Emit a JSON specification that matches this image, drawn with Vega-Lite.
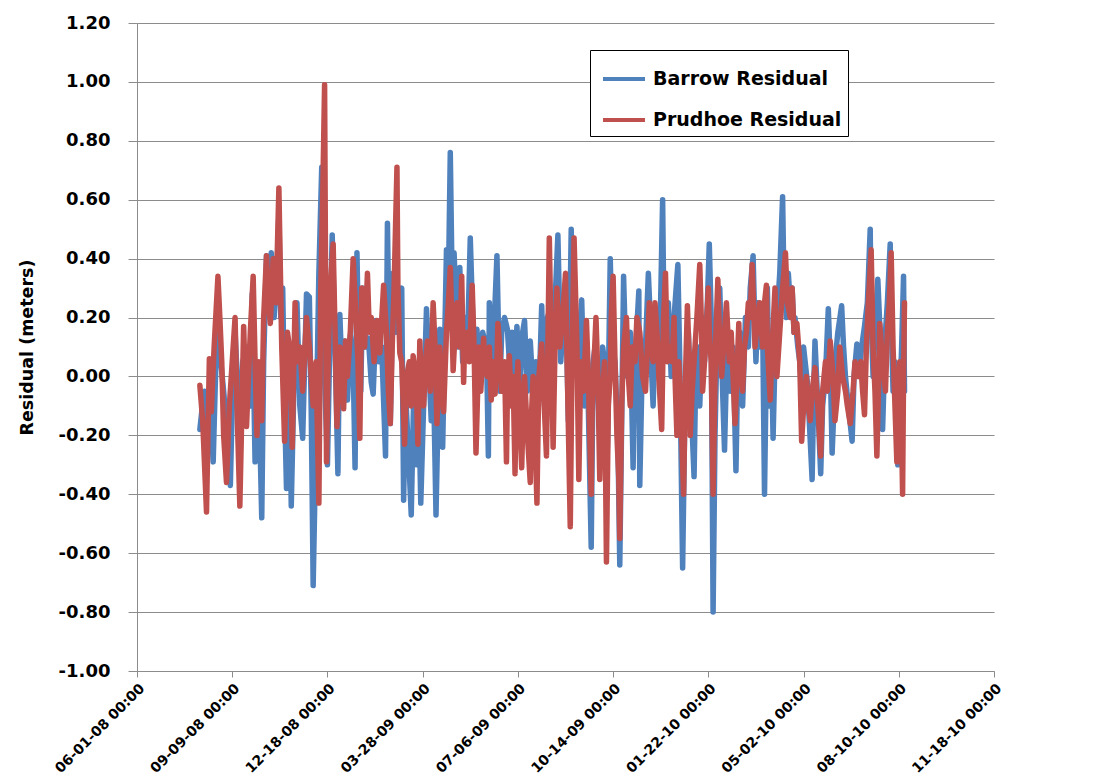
{
  "$schema": "https://vega.github.io/schema/vega-lite/v6.json",
  "autosize": "none",
  "width": 857,
  "height": 648,
  "padding": {"left": 137, "top": 23, "right": 113, "bottom": 105},
  "background": "white",
  "config": {
    "view": {"stroke": null},
    "font": "DejaVu Sans",
    "axis": {"labelFont": "DejaVu Sans", "labelFontWeight": "bold", "labelColor": "#000000", "titleFont": "DejaVu Sans", "titleFontWeight": "bold", "titleColor": "#000000", "domainColor": "#8c8c8c", "tickColor": "#8c8c8c", "gridColor": "#8c8c8c", "domainWidth": 1, "tickWidth": 1, "gridWidth": 1},
    "legend": {"labelFont": "DejaVu Sans"}
  },
  "data": {"values": [
    {"d":"2008-08-06","s":"B","v":-0.18},{"d":"2008-08-08","s":"B","v":-0.12},{"d":"2008-08-11","s":"B","v":-0.05},{"d":"2008-08-15","s":"B","v":-0.20},{"d":"2008-08-17","s":"B","v":-0.10},{"d":"2008-08-20","s":"B","v":-0.29},{"d":"2008-08-22","s":"B","v":-0.05},{"d":"2008-08-25","s":"B","v":0.28},{"d":"2008-08-28","s":"B","v":0.05},{"d":"2008-08-31","s":"B","v":-0.05},
    {"d":"2008-09-04","s":"B","v":-0.20},{"d":"2008-09-07","s":"B","v":-0.37},{"d":"2008-09-09","s":"B","v":-0.10},{"d":"2008-09-12","s":"B","v":0.15},{"d":"2008-09-15","s":"B","v":-0.05},{"d":"2008-09-17","s":"B","v":-0.30},{"d":"2008-09-20","s":"B","v":0.05},{"d":"2008-09-25","s":"B","v":0.10},{"d":"2008-09-28","s":"B","v":-0.10},{"d":"2008-09-30","s":"B","v":0.28},
    {"d":"2008-10-03","s":"B","v":-0.29},{"d":"2008-10-06","s":"B","v":0.00},{"d":"2008-10-08","s":"B","v":-0.20},{"d":"2008-10-10","s":"B","v":-0.48},{"d":"2008-10-12","s":"B","v":0.05},{"d":"2008-10-15","s":"B","v":0.41},{"d":"2008-10-18","s":"B","v":0.25},{"d":"2008-10-20","s":"B","v":0.42},{"d":"2008-10-23","s":"B","v":0.20},{"d":"2008-10-26","s":"B","v":0.35},{"d":"2008-10-28","s":"B","v":0.55},{"d":"2008-10-30","s":"B","v":0.20},
    {"d":"2008-11-01","s":"B","v":0.30},{"d":"2008-11-03","s":"B","v":-0.10},{"d":"2008-11-05","s":"B","v":-0.38},{"d":"2008-11-08","s":"B","v":0.05},{"d":"2008-11-10","s":"B","v":-0.44},{"d":"2008-11-13","s":"B","v":0.00},{"d":"2008-11-16","s":"B","v":0.25},{"d":"2008-11-19","s":"B","v":-0.10},{"d":"2008-11-22","s":"B","v":-0.21},{"d":"2008-11-26","s":"B","v":0.28},{"d":"2008-11-29","s":"B","v":0.27},
    {"d":"2008-12-01","s":"B","v":-0.12},{"d":"2008-12-03","s":"B","v":-0.71},{"d":"2008-12-06","s":"B","v":-0.20},{"d":"2008-12-09","s":"B","v":0.35},{"d":"2008-12-12","s":"B","v":0.71},{"d":"2008-12-14","s":"B","v":0.10},{"d":"2008-12-18","s":"B","v":-0.30},{"d":"2008-12-21","s":"B","v":0.20},{"d":"2008-12-23","s":"B","v":0.48},{"d":"2008-12-26","s":"B","v":0.10},{"d":"2008-12-29","s":"B","v":-0.33},{"d":"2008-12-31","s":"B","v":0.21},
    {"d":"2009-01-03","s":"B","v":-0.05},{"d":"2009-01-05","s":"B","v":0.12},{"d":"2009-01-08","s":"B","v":-0.08},{"d":"2009-01-11","s":"B","v":0.14},{"d":"2009-01-14","s":"B","v":0.05},{"d":"2009-01-16","s":"B","v":-0.31},{"d":"2009-01-18","s":"B","v":0.42},{"d":"2009-01-20","s":"B","v":0.05},{"d":"2009-01-22","s":"B","v":-0.05},{"d":"2009-01-24","s":"B","v":0.30},{"d":"2009-01-27","s":"B","v":0.10},{"d":"2009-01-30","s":"B","v":0.13},
    {"d":"2009-02-02","s":"B","v":-0.02},{"d":"2009-02-04","s":"B","v":-0.06},{"d":"2009-02-07","s":"B","v":0.19},{"d":"2009-02-10","s":"B","v":0.05},{"d":"2009-02-13","s":"B","v":0.10},{"d":"2009-02-17","s":"B","v":-0.27},{"d":"2009-02-19","s":"B","v":0.52},{"d":"2009-02-22","s":"B","v":-0.16},{"d":"2009-02-25","s":"B","v":0.35},{"d":"2009-02-28","s":"B","v":0.15},
    {"d":"2009-03-03","s":"B","v":0.25},{"d":"2009-03-06","s":"B","v":0.30},{"d":"2009-03-08","s":"B","v":-0.42},{"d":"2009-03-10","s":"B","v":-0.05},{"d":"2009-03-13","s":"B","v":-0.25},{"d":"2009-03-16","s":"B","v":-0.47},{"d":"2009-03-19","s":"B","v":0.00},{"d":"2009-03-22","s":"B","v":-0.30},{"d":"2009-03-24","s":"B","v":-0.10},{"d":"2009-03-26","s":"B","v":-0.43},{"d":"2009-03-29","s":"B","v":-0.10},
    {"d":"2009-04-01","s":"B","v":0.23},{"d":"2009-04-04","s":"B","v":0.00},{"d":"2009-04-06","s":"B","v":-0.15},{"d":"2009-04-08","s":"B","v":0.05},{"d":"2009-04-11","s":"B","v":-0.47},{"d":"2009-04-15","s":"B","v":0.16},{"d":"2009-04-18","s":"B","v":-0.24},{"d":"2009-04-20","s":"B","v":0.10},{"d":"2009-04-22","s":"B","v":0.43},{"d":"2009-04-24","s":"B","v":0.30},{"d":"2009-04-26","s":"B","v":0.76},{"d":"2009-04-28","s":"B","v":0.30},{"d":"2009-04-30","s":"B","v":0.42},
    {"d":"2009-05-02","s":"B","v":0.25},{"d":"2009-05-04","s":"B","v":0.10},{"d":"2009-05-06","s":"B","v":0.37},{"d":"2009-05-09","s":"B","v":0.05},{"d":"2009-05-12","s":"B","v":0.20},{"d":"2009-05-14","s":"B","v":0.10},{"d":"2009-05-17","s":"B","v":0.47},{"d":"2009-05-21","s":"B","v":0.05},{"d":"2009-05-24","s":"B","v":0.16},{"d":"2009-05-26","s":"B","v":-0.05},{"d":"2009-05-28","s":"B","v":0.05},{"d":"2009-05-30","s":"B","v":0.15},
    {"d":"2009-06-03","s":"B","v":0.10},{"d":"2009-06-05","s":"B","v":-0.27},{"d":"2009-06-06","s":"B","v":0.25},{"d":"2009-06-08","s":"B","v":0.10},{"d":"2009-06-10","s":"B","v":0.05},{"d":"2009-06-12","s":"B","v":0.25},{"d":"2009-06-14","s":"B","v":0.41},{"d":"2009-06-16","s":"B","v":0.10},{"d":"2009-06-17","s":"B","v":-0.05},{"d":"2009-06-19","s":"B","v":0.15},{"d":"2009-06-22","s":"B","v":0.20},{"d":"2009-06-25","s":"B","v":0.16},{"d":"2009-06-28","s":"B","v":0.00},{"d":"2009-06-30","s":"B","v":0.15},
    {"d":"2009-07-02","s":"B","v":-0.02},{"d":"2009-07-05","s":"B","v":0.17},{"d":"2009-07-08","s":"B","v":-0.05},{"d":"2009-07-11","s":"B","v":0.15},{"d":"2009-07-13","s":"B","v":0.19},{"d":"2009-07-16","s":"B","v":-0.05},{"d":"2009-07-19","s":"B","v":0.12},{"d":"2009-07-22","s":"B","v":-0.05},{"d":"2009-07-25","s":"B","v":0.05},{"d":"2009-07-28","s":"B","v":-0.08},{"d":"2009-07-31","s":"B","v":0.24},
    {"d":"2009-08-03","s":"B","v":-0.10},{"d":"2009-08-06","s":"B","v":0.20},{"d":"2009-08-09","s":"B","v":0.23},{"d":"2009-08-11","s":"B","v":0.05},{"d":"2009-08-14","s":"B","v":0.25},{"d":"2009-08-17","s":"B","v":0.48},{"d":"2009-08-20","s":"B","v":0.05},{"d":"2009-08-22","s":"B","v":0.15},{"d":"2009-08-25","s":"B","v":0.30},{"d":"2009-08-28","s":"B","v":-0.15},{"d":"2009-08-31","s":"B","v":0.50},
    {"d":"2009-09-02","s":"B","v":0.20},{"d":"2009-09-04","s":"B","v":0.15},{"d":"2009-09-07","s":"B","v":0.05},{"d":"2009-09-11","s":"B","v":0.26},{"d":"2009-09-14","s":"B","v":-0.10},{"d":"2009-09-17","s":"B","v":0.05},{"d":"2009-09-21","s":"B","v":-0.58},{"d":"2009-09-23","s":"B","v":0.05},{"d":"2009-09-25","s":"B","v":0.10},{"d":"2009-09-28","s":"B","v":-0.05},{"d":"2009-09-30","s":"B","v":-0.20},
    {"d":"2009-10-03","s":"B","v":0.10},{"d":"2009-10-05","s":"B","v":0.05},{"d":"2009-10-08","s":"B","v":-0.24},{"d":"2009-10-11","s":"B","v":0.40},{"d":"2009-10-13","s":"B","v":0.10},{"d":"2009-10-16","s":"B","v":0.05},{"d":"2009-10-19","s":"B","v":-0.20},{"d":"2009-10-21","s":"B","v":-0.64},{"d":"2009-10-25","s":"B","v":0.34},{"d":"2009-10-27","s":"B","v":0.10},{"d":"2009-10-29","s":"B","v":0.00},
    {"d":"2009-11-01","s":"B","v":0.15},{"d":"2009-11-04","s":"B","v":-0.31},{"d":"2009-11-06","s":"B","v":0.05},{"d":"2009-11-10","s":"B","v":0.29},{"d":"2009-11-11","s":"B","v":-0.37},{"d":"2009-11-13","s":"B","v":-0.05},{"d":"2009-11-17","s":"B","v":0.10},{"d":"2009-11-20","s":"B","v":0.35},{"d":"2009-11-22","s":"B","v":0.20},{"d":"2009-11-23","s":"B","v":0.05},{"d":"2009-11-25","s":"B","v":-0.10},{"d":"2009-11-28","s":"B","v":0.20},{"d":"2009-11-30","s":"B","v":0.00},
    {"d":"2009-12-02","s":"B","v":0.10},{"d":"2009-12-05","s":"B","v":0.60},{"d":"2009-12-06","s":"B","v":0.30},{"d":"2009-12-08","s":"B","v":0.10},{"d":"2009-12-11","s":"B","v":0.25},{"d":"2009-12-14","s":"B","v":0.00},{"d":"2009-12-17","s":"B","v":0.20},{"d":"2009-12-21","s":"B","v":0.38},{"d":"2009-12-23","s":"B","v":0.05},{"d":"2009-12-26","s":"B","v":-0.65},{"d":"2009-12-28","s":"B","v":-0.20},{"d":"2009-12-30","s":"B","v":0.00},
    {"d":"2010-01-01","s":"B","v":0.15},{"d":"2010-01-04","s":"B","v":-0.10},{"d":"2010-01-07","s":"B","v":-0.34},{"d":"2010-01-09","s":"B","v":0.05},{"d":"2010-01-11","s":"B","v":0.10},{"d":"2010-01-13","s":"B","v":-0.10},{"d":"2010-01-16","s":"B","v":0.20},{"d":"2010-01-18","s":"B","v":0.05},{"d":"2010-01-21","s":"B","v":0.25},{"d":"2010-01-23","s":"B","v":0.45},{"d":"2010-01-25","s":"B","v":0.20},{"d":"2010-01-27","s":"B","v":-0.80},{"d":"2010-01-29","s":"B","v":-0.20},{"d":"2010-01-31","s":"B","v":0.10},
    {"d":"2010-02-03","s":"B","v":0.30},{"d":"2010-02-06","s":"B","v":-0.05},{"d":"2010-02-08","s":"B","v":-0.25},{"d":"2010-02-11","s":"B","v":0.15},{"d":"2010-02-14","s":"B","v":-0.05},{"d":"2010-02-17","s":"B","v":0.10},{"d":"2010-02-20","s":"B","v":-0.32},{"d":"2010-02-22","s":"B","v":0.05},{"d":"2010-02-24","s":"B","v":0.15},{"d":"2010-02-27","s":"B","v":-0.10},
    {"d":"2010-03-02","s":"B","v":0.20},{"d":"2010-03-05","s":"B","v":0.10},{"d":"2010-03-07","s":"B","v":0.30},{"d":"2010-03-10","s":"B","v":0.41},{"d":"2010-03-12","s":"B","v":0.15},{"d":"2010-03-13","s":"B","v":0.05},{"d":"2010-03-15","s":"B","v":0.25},{"d":"2010-03-17","s":"B","v":0.10},{"d":"2010-03-20","s":"B","v":0.20},{"d":"2010-03-22","s":"B","v":-0.40},{"d":"2010-03-25","s":"B","v":0.30},{"d":"2010-03-27","s":"B","v":-0.10},{"d":"2010-03-29","s":"B","v":0.15},{"d":"2010-03-31","s":"B","v":-0.21},
    {"d":"2010-04-03","s":"B","v":0.20},{"d":"2010-04-05","s":"B","v":0.25},{"d":"2010-04-07","s":"B","v":0.35},{"d":"2010-04-10","s":"B","v":0.61},{"d":"2010-04-11","s":"B","v":0.40},{"d":"2010-04-14","s":"B","v":0.20},{"d":"2010-04-16","s":"B","v":0.35},{"d":"2010-04-18","s":"B","v":0.25},{"d":"2010-04-20","s":"B","v":0.30},{"d":"2010-04-22","s":"B","v":0.15},{"d":"2010-04-23","s":"B","v":0.20},{"d":"2010-04-26","s":"B","v":0.10},{"d":"2010-04-28","s":"B","v":0.05},{"d":"2010-04-30","s":"B","v":-0.05},
    {"d":"2010-05-02","s":"B","v":0.10},{"d":"2010-05-06","s":"B","v":-0.02},{"d":"2010-05-08","s":"B","v":-0.15},{"d":"2010-05-11","s":"B","v":-0.35},{"d":"2010-05-13","s":"B","v":0.00},{"d":"2010-05-14","s":"B","v":0.12},{"d":"2010-05-17","s":"B","v":-0.10},{"d":"2010-05-20","s":"B","v":-0.33},{"d":"2010-05-22","s":"B","v":-0.10},{"d":"2010-05-25","s":"B","v":0.00},{"d":"2010-05-28","s":"B","v":0.23},{"d":"2010-05-30","s":"B","v":0.05},
    {"d":"2010-06-01","s":"B","v":-0.26},{"d":"2010-06-03","s":"B","v":-0.10},{"d":"2010-06-04","s":"B","v":0.05},{"d":"2010-06-07","s":"B","v":0.15},{"d":"2010-06-11","s":"B","v":0.24},{"d":"2010-06-13","s":"B","v":0.10},{"d":"2010-06-15","s":"B","v":0.00},{"d":"2010-06-18","s":"B","v":-0.10},{"d":"2010-06-22","s":"B","v":-0.22},{"d":"2010-06-24","s":"B","v":0.00},{"d":"2010-06-27","s":"B","v":0.11},{"d":"2010-06-29","s":"B","v":0.00},
    {"d":"2010-07-02","s":"B","v":0.10},{"d":"2010-07-05","s":"B","v":0.17},{"d":"2010-07-08","s":"B","v":0.25},{"d":"2010-07-11","s":"B","v":0.50},{"d":"2010-07-12","s":"B","v":0.20},{"d":"2010-07-14","s":"B","v":0.00},{"d":"2010-07-16","s":"B","v":0.15},{"d":"2010-07-19","s":"B","v":0.33},{"d":"2010-07-22","s":"B","v":0.10},{"d":"2010-07-24","s":"B","v":-0.18},{"d":"2010-07-27","s":"B","v":0.15},{"d":"2010-07-29","s":"B","v":0.25},
    {"d":"2010-08-01","s":"B","v":0.45},{"d":"2010-08-02","s":"B","v":0.20},{"d":"2010-08-04","s":"B","v":-0.05},{"d":"2010-08-06","s":"B","v":0.05},{"d":"2010-08-09","s":"B","v":-0.30},{"d":"2010-08-11","s":"B","v":-0.10},{"d":"2010-08-13","s":"B","v":0.10},{"d":"2010-08-15","s":"B","v":0.34},{"d":"2010-08-16","s":"B","v":-0.05},

    {"d":"2008-08-06","s":"P","v":-0.03},{"d":"2008-08-09","s":"P","v":-0.15},{"d":"2008-08-13","s":"P","v":-0.46},{"d":"2008-08-16","s":"P","v":0.06},{"d":"2008-08-18","s":"P","v":-0.12},{"d":"2008-08-21","s":"P","v":0.10},{"d":"2008-08-25","s":"P","v":0.34},{"d":"2008-08-27","s":"P","v":0.20},{"d":"2008-08-29","s":"P","v":0.05},{"d":"2008-08-31","s":"P","v":-0.20},
    {"d":"2008-09-03","s":"P","v":-0.36},{"d":"2008-09-06","s":"P","v":-0.10},{"d":"2008-09-09","s":"P","v":0.05},{"d":"2008-09-12","s":"P","v":0.20},{"d":"2008-09-14","s":"P","v":-0.10},{"d":"2008-09-17","s":"P","v":-0.44},{"d":"2008-09-21","s":"P","v":0.17},{"d":"2008-09-24","s":"P","v":-0.17},{"d":"2008-09-28","s":"P","v":0.15},
    {"d":"2008-10-01","s":"P","v":0.34},{"d":"2008-10-03","s":"P","v":0.05},{"d":"2008-10-05","s":"P","v":-0.20},{"d":"2008-10-07","s":"P","v":0.05},{"d":"2008-10-10","s":"P","v":-0.15},{"d":"2008-10-12","s":"P","v":0.20},{"d":"2008-10-15","s":"P","v":0.41},{"d":"2008-10-17","s":"P","v":0.25},{"d":"2008-10-19","s":"P","v":0.18},{"d":"2008-10-22","s":"P","v":0.40},{"d":"2008-10-25","s":"P","v":0.25},{"d":"2008-10-28","s":"P","v":0.64},{"d":"2008-10-31","s":"P","v":0.10},
    {"d":"2008-11-03","s":"P","v":-0.22},{"d":"2008-11-06","s":"P","v":0.15},{"d":"2008-11-09","s":"P","v":0.08},{"d":"2008-11-11","s":"P","v":-0.24},{"d":"2008-11-14","s":"P","v":0.25},{"d":"2008-11-16","s":"P","v":0.05},{"d":"2008-11-19","s":"P","v":0.10},{"d":"2008-11-22","s":"P","v":-0.05},{"d":"2008-11-26","s":"P","v":0.20},{"d":"2008-11-29","s":"P","v":0.10},
    {"d":"2008-12-01","s":"P","v":0.00},{"d":"2008-12-03","s":"P","v":-0.10},{"d":"2008-12-06","s":"P","v":0.05},{"d":"2008-12-09","s":"P","v":-0.43},{"d":"2008-12-11","s":"P","v":0.30},{"d":"2008-12-13","s":"P","v":0.60},{"d":"2008-12-15","s":"P","v":0.99},{"d":"2008-12-17","s":"P","v":-0.29},{"d":"2008-12-19","s":"P","v":0.10},{"d":"2008-12-21","s":"P","v":0.30},{"d":"2008-12-24","s":"P","v":0.45},{"d":"2008-12-26","s":"P","v":0.15},{"d":"2008-12-28","s":"P","v":-0.17},{"d":"2008-12-31","s":"P","v":0.10},
    {"d":"2009-01-04","s":"P","v":-0.11},{"d":"2009-01-06","s":"P","v":0.12},{"d":"2009-01-08","s":"P","v":0.00},{"d":"2009-01-11","s":"P","v":0.15},{"d":"2009-01-14","s":"P","v":0.40},{"d":"2009-01-17","s":"P","v":0.20},{"d":"2009-01-19","s":"P","v":0.05},{"d":"2009-01-21","s":"P","v":-0.21},{"d":"2009-01-23","s":"P","v":0.30},{"d":"2009-01-25","s":"P","v":0.15},{"d":"2009-01-26","s":"P","v":0.10},{"d":"2009-01-29","s":"P","v":0.35},{"d":"2009-01-31","s":"P","v":0.15},
    {"d":"2009-02-02","s":"P","v":0.20},{"d":"2009-02-05","s":"P","v":0.05},{"d":"2009-02-08","s":"P","v":0.19},{"d":"2009-02-11","s":"P","v":0.08},{"d":"2009-02-15","s":"P","v":0.31},{"d":"2009-02-18","s":"P","v":0.15},{"d":"2009-02-20","s":"P","v":-0.05},{"d":"2009-02-22","s":"P","v":-0.16},{"d":"2009-02-24","s":"P","v":0.10},{"d":"2009-02-26","s":"P","v":0.30},
    {"d":"2009-03-01","s":"P","v":0.71},{"d":"2009-03-02","s":"P","v":0.30},{"d":"2009-03-04","s":"P","v":0.08},{"d":"2009-03-06","s":"P","v":0.05},{"d":"2009-03-09","s":"P","v":-0.23},{"d":"2009-03-11","s":"P","v":0.00},{"d":"2009-03-14","s":"P","v":0.05},{"d":"2009-03-16","s":"P","v":-0.10},{"d":"2009-03-18","s":"P","v":0.07},{"d":"2009-03-21","s":"P","v":0.00},{"d":"2009-03-23","s":"P","v":-0.23},{"d":"2009-03-25","s":"P","v":0.12},{"d":"2009-03-27","s":"P","v":-0.05},{"d":"2009-03-29","s":"P","v":-0.10},{"d":"2009-03-31","s":"P","v":0.05},
    {"d":"2009-04-02","s":"P","v":0.12},{"d":"2009-04-05","s":"P","v":-0.05},{"d":"2009-04-08","s":"P","v":0.25},{"d":"2009-04-10","s":"P","v":0.10},{"d":"2009-04-12","s":"P","v":-0.16},{"d":"2009-04-15","s":"P","v":0.10},{"d":"2009-04-17","s":"P","v":-0.05},{"d":"2009-04-19","s":"P","v":-0.12},{"d":"2009-04-22","s":"P","v":0.15},{"d":"2009-04-24","s":"P","v":0.25},{"d":"2009-04-26","s":"P","v":0.37},{"d":"2009-04-28","s":"P","v":0.15},{"d":"2009-04-29","s":"P","v":0.02},
    {"d":"2009-05-01","s":"P","v":0.15},{"d":"2009-05-03","s":"P","v":0.25},{"d":"2009-05-06","s":"P","v":0.10},{"d":"2009-05-08","s":"P","v":0.34},{"d":"2009-05-10","s":"P","v":-0.02},{"d":"2009-05-11","s":"P","v":0.10},{"d":"2009-05-14","s":"P","v":0.15},{"d":"2009-05-16","s":"P","v":0.05},{"d":"2009-05-19","s":"P","v":0.31},{"d":"2009-05-21","s":"P","v":0.10},{"d":"2009-05-23","s":"P","v":-0.26},{"d":"2009-05-26","s":"P","v":0.10},{"d":"2009-05-28","s":"P","v":-0.05},{"d":"2009-05-31","s":"P","v":0.13},
    {"d":"2009-06-01","s":"P","v":0.05},{"d":"2009-06-04","s":"P","v":0.00},{"d":"2009-06-06","s":"P","v":0.10},{"d":"2009-06-08","s":"P","v":-0.08},{"d":"2009-06-10","s":"P","v":0.05},{"d":"2009-06-12","s":"P","v":-0.06},{"d":"2009-06-14","s":"P","v":0.05},{"d":"2009-06-15","s":"P","v":0.18},{"d":"2009-06-17","s":"P","v":0.10},{"d":"2009-06-19","s":"P","v":-0.05},{"d":"2009-06-22","s":"P","v":0.05},{"d":"2009-06-24","s":"P","v":-0.29},{"d":"2009-06-25","s":"P","v":-0.05},{"d":"2009-06-27","s":"P","v":0.07},{"d":"2009-06-29","s":"P","v":-0.10},
    {"d":"2009-07-01","s":"P","v":0.00},{"d":"2009-07-03","s":"P","v":-0.33},{"d":"2009-07-04","s":"P","v":-0.10},{"d":"2009-07-06","s":"P","v":0.05},{"d":"2009-07-08","s":"P","v":-0.15},{"d":"2009-07-10","s":"P","v":-0.31},{"d":"2009-07-12","s":"P","v":-0.05},{"d":"2009-07-13","s":"P","v":0.00},{"d":"2009-07-16","s":"P","v":-0.20},{"d":"2009-07-19","s":"P","v":-0.36},{"d":"2009-07-20","s":"P","v":-0.15},{"d":"2009-07-22","s":"P","v":0.00},{"d":"2009-07-24","s":"P","v":-0.20},{"d":"2009-07-26","s":"P","v":-0.43},{"d":"2009-07-28","s":"P","v":0.00},{"d":"2009-07-31","s":"P","v":0.11},
    {"d":"2009-08-02","s":"P","v":-0.05},{"d":"2009-08-05","s":"P","v":-0.27},{"d":"2009-08-08","s":"P","v":0.47},{"d":"2009-08-10","s":"P","v":0.10},{"d":"2009-08-12","s":"P","v":-0.24},{"d":"2009-08-14","s":"P","v":0.10},{"d":"2009-08-16","s":"P","v":0.30},{"d":"2009-08-18","s":"P","v":0.15},{"d":"2009-08-19","s":"P","v":0.10},{"d":"2009-08-22","s":"P","v":0.20},{"d":"2009-08-25","s":"P","v":0.35},{"d":"2009-08-27","s":"P","v":0.00},{"d":"2009-08-30","s":"P","v":-0.51},
    {"d":"2009-09-01","s":"P","v":0.10},{"d":"2009-09-03","s":"P","v":0.47},{"d":"2009-09-06","s":"P","v":0.10},{"d":"2009-09-08","s":"P","v":-0.35},{"d":"2009-09-10","s":"P","v":0.05},{"d":"2009-09-13","s":"P","v":-0.05},{"d":"2009-09-16","s":"P","v":0.19},{"d":"2009-09-18","s":"P","v":0.00},{"d":"2009-09-21","s":"P","v":-0.40},{"d":"2009-09-22","s":"P","v":-0.10},{"d":"2009-09-26","s":"P","v":0.20},{"d":"2009-09-28","s":"P","v":0.00},{"d":"2009-09-30","s":"P","v":-0.35},
    {"d":"2009-10-02","s":"P","v":-0.10},{"d":"2009-10-05","s":"P","v":0.05},{"d":"2009-10-07","s":"P","v":-0.63},{"d":"2009-10-09","s":"P","v":-0.10},{"d":"2009-10-11","s":"P","v":0.00},{"d":"2009-10-12","s":"P","v":0.20},{"d":"2009-10-14","s":"P","v":0.34},{"d":"2009-10-16","s":"P","v":0.05},{"d":"2009-10-18","s":"P","v":-0.20},{"d":"2009-10-20","s":"P","v":-0.35},{"d":"2009-10-21","s":"P","v":-0.55},{"d":"2009-10-23","s":"P","v":-0.10},{"d":"2009-10-25","s":"P","v":0.10},{"d":"2009-10-28","s":"P","v":0.20},{"d":"2009-10-30","s":"P","v":0.00},
    {"d":"2009-11-01","s":"P","v":-0.10},{"d":"2009-11-03","s":"P","v":0.10},{"d":"2009-11-06","s":"P","v":0.05},{"d":"2009-11-08","s":"P","v":0.20},{"d":"2009-11-11","s":"P","v":0.15},{"d":"2009-11-14","s":"P","v":0.00},{"d":"2009-11-17","s":"P","v":-0.05},{"d":"2009-11-19","s":"P","v":0.10},{"d":"2009-11-21","s":"P","v":0.25},{"d":"2009-11-23","s":"P","v":0.10},{"d":"2009-11-25","s":"P","v":0.05},{"d":"2009-11-27","s":"P","v":0.25},{"d":"2009-11-30","s":"P","v":0.10},
    {"d":"2009-12-01","s":"P","v":0.00},{"d":"2009-12-04","s":"P","v":-0.18},{"d":"2009-12-06","s":"P","v":0.20},{"d":"2009-12-08","s":"P","v":0.35},{"d":"2009-12-10","s":"P","v":0.05},{"d":"2009-12-13","s":"P","v":0.10},{"d":"2009-12-15","s":"P","v":0.05},{"d":"2009-12-17","s":"P","v":0.20},{"d":"2009-12-18","s":"P","v":0.00},{"d":"2009-12-20","s":"P","v":-0.20},{"d":"2009-12-22","s":"P","v":0.05},{"d":"2009-12-24","s":"P","v":-0.10},{"d":"2009-12-27","s":"P","v":-0.40},{"d":"2009-12-29","s":"P","v":0.00},{"d":"2009-12-31","s":"P","v":0.24},
    {"d":"2010-01-02","s":"P","v":0.05},{"d":"2010-01-03","s":"P","v":-0.20},{"d":"2010-01-05","s":"P","v":-0.05},{"d":"2010-01-08","s":"P","v":0.10},{"d":"2010-01-10","s":"P","v":0.20},{"d":"2010-01-13","s":"P","v":0.38},{"d":"2010-01-15","s":"P","v":0.15},{"d":"2010-01-16","s":"P","v":-0.05},{"d":"2010-01-19","s":"P","v":0.10},{"d":"2010-01-22","s":"P","v":0.30},{"d":"2010-01-23","s":"P","v":0.15},{"d":"2010-01-25","s":"P","v":0.05},{"d":"2010-01-27","s":"P","v":-0.40},{"d":"2010-01-29","s":"P","v":0.00},{"d":"2010-01-30","s":"P","v":0.15},
    {"d":"2010-02-01","s":"P","v":0.33},{"d":"2010-02-03","s":"P","v":0.10},{"d":"2010-02-05","s":"P","v":0.00},{"d":"2010-02-08","s":"P","v":0.15},{"d":"2010-02-10","s":"P","v":0.25},{"d":"2010-02-13","s":"P","v":0.05},{"d":"2010-02-15","s":"P","v":0.15},{"d":"2010-02-17","s":"P","v":0.00},{"d":"2010-02-19","s":"P","v":-0.16},{"d":"2010-02-21","s":"P","v":0.00},{"d":"2010-02-23","s":"P","v":0.18},{"d":"2010-02-24","s":"P","v":0.05},{"d":"2010-02-27","s":"P","v":-0.05},
    {"d":"2010-03-01","s":"P","v":0.10},{"d":"2010-03-03","s":"P","v":0.15},{"d":"2010-03-05","s":"P","v":0.25},{"d":"2010-03-07","s":"P","v":0.20},{"d":"2010-03-09","s":"P","v":0.38},{"d":"2010-03-11","s":"P","v":0.20},{"d":"2010-03-12","s":"P","v":0.10},{"d":"2010-03-15","s":"P","v":0.20},{"d":"2010-03-17","s":"P","v":0.25},{"d":"2010-03-20","s":"P","v":0.10},{"d":"2010-03-22","s":"P","v":0.25},{"d":"2010-03-24","s":"P","v":0.31},{"d":"2010-03-25","s":"P","v":0.10},{"d":"2010-03-28","s":"P","v":-0.08},{"d":"2010-03-30","s":"P","v":0.10},
    {"d":"2010-04-02","s":"P","v":0.30},{"d":"2010-04-04","s":"P","v":0.00},{"d":"2010-04-07","s":"P","v":0.15},{"d":"2010-04-10","s":"P","v":0.30},{"d":"2010-04-13","s":"P","v":0.42},{"d":"2010-04-15","s":"P","v":0.25},{"d":"2010-04-18","s":"P","v":0.20},{"d":"2010-04-20","s":"P","v":0.30},{"d":"2010-04-22","s":"P","v":0.15},{"d":"2010-04-25","s":"P","v":0.18},{"d":"2010-04-28","s":"P","v":0.05},{"d":"2010-04-30","s":"P","v":-0.22},
    {"d":"2010-05-03","s":"P","v":-0.05},{"d":"2010-05-05","s":"P","v":0.00},{"d":"2010-05-07","s":"P","v":-0.10},{"d":"2010-05-09","s":"P","v":-0.15},{"d":"2010-05-11","s":"P","v":-0.05},{"d":"2010-05-14","s":"P","v":0.03},{"d":"2010-05-17","s":"P","v":-0.10},{"d":"2010-05-20","s":"P","v":-0.27},{"d":"2010-05-22","s":"P","v":-0.05},{"d":"2010-05-25","s":"P","v":0.05},{"d":"2010-05-27","s":"P","v":-0.05},{"d":"2010-05-30","s":"P","v":0.12},
    {"d":"2010-06-02","s":"P","v":0.00},{"d":"2010-06-04","s":"P","v":-0.15},{"d":"2010-06-07","s":"P","v":-0.05},{"d":"2010-06-09","s":"P","v":0.10},{"d":"2010-06-12","s":"P","v":0.00},{"d":"2010-06-15","s":"P","v":-0.05},{"d":"2010-06-17","s":"P","v":-0.10},{"d":"2010-06-20","s":"P","v":-0.16},{"d":"2010-06-23","s":"P","v":-0.05},{"d":"2010-06-25","s":"P","v":0.05},{"d":"2010-06-28","s":"P","v":0.00},
    {"d":"2010-07-01","s":"P","v":0.05},{"d":"2010-07-03","s":"P","v":-0.05},{"d":"2010-07-05","s":"P","v":-0.13},{"d":"2010-07-07","s":"P","v":0.10},{"d":"2010-07-09","s":"P","v":0.25},{"d":"2010-07-12","s":"P","v":0.43},{"d":"2010-07-14","s":"P","v":0.10},{"d":"2010-07-16","s":"P","v":-0.05},{"d":"2010-07-18","s":"P","v":-0.27},{"d":"2010-07-20","s":"P","v":0.00},{"d":"2010-07-21","s":"P","v":0.18},{"d":"2010-07-24","s":"P","v":0.05},{"d":"2010-07-27","s":"P","v":-0.05},{"d":"2010-07-29","s":"P","v":0.15},{"d":"2010-07-31","s":"P","v":0.25},
    {"d":"2010-08-02","s":"P","v":0.42},{"d":"2010-08-04","s":"P","v":0.10},{"d":"2010-08-06","s":"P","v":-0.10},{"d":"2010-08-08","s":"P","v":-0.29},{"d":"2010-08-10","s":"P","v":0.00},{"d":"2010-08-11","s":"P","v":0.05},{"d":"2010-08-13","s":"P","v":-0.20},{"d":"2010-08-14","s":"P","v":-0.40},{"d":"2010-08-15","s":"P","v":0.00},{"d":"2010-08-16","s":"P","v":0.25}
  ]},
  "mark": {"type": "line", "strokeWidth": 5.5, "strokeJoin": "round", "strokeCap": "round"},
  "encoding": {
    "x": {
      "field": "d", "type": "temporal", "title": null,
      "scale": {"type": "utc", "nice": false, "domain": [{"year": 2008, "month": 6, "date": 1, "utc": true}, {"year": 2010, "month": 11, "date": 18, "utc": true}]},
      "axis": {
        "values": [
          {"year": 2008, "month": 6, "date": 1, "utc": true},
          {"year": 2008, "month": 9, "date": 9, "utc": true},
          {"year": 2008, "month": 12, "date": 18, "utc": true},
          {"year": 2009, "month": 3, "date": 28, "utc": true},
          {"year": 2009, "month": 7, "date": 6, "utc": true},
          {"year": 2009, "month": 10, "date": 14, "utc": true},
          {"year": 2010, "month": 1, "date": 22, "utc": true},
          {"year": 2010, "month": 5, "date": 2, "utc": true},
          {"year": 2010, "month": 8, "date": 10, "utc": true},
          {"year": 2010, "month": 11, "date": 18, "utc": true}
        ],
        "labelExpr": "utcFormat(datum.value, '%m-%d-%y 00:00')",
        "labelAngle": -45, "labelFontSize": 14, "grid": false, "tickSize": 6, "labelPadding": 4, "labelOverlap": false, "labelFlush": false
      }
    },
    "y": {
      "field": "v", "type": "quantitative",
      "scale": {"domain": [-1, 1.2], "nice": false, "zero": false},
      "axis": {
        "values": [-1, -0.8, -0.6, -0.4, -0.2, 0, 0.2, 0.4, 0.6, 0.8, 1, 1.2],
        "labelExpr": "replace(format(datum.value, '.2f'), '\u2212', '-')",
        "labelFontSize": 18, "tickSize": 9, "labelPadding": 18, "grid": true,
        "title": "Residual (meters)", "titleFontSize": 17.5, "titleX": -110, "titleY": 324, "titleAngle": -90, "titleAlign": "center", "titleBaseline": "middle"
      }
    },
    "color": {
      "field": "s", "type": "nominal",
      "scale": {"domain": ["B", "P"], "range": ["#4F81BD", "#C0504D"]},
      "legend": {
        "title": null, "orient": "none", "legendX": 453, "legendY": 27,
        "labelExpr": "datum.label == 'B' ? 'Barrow Residual' : 'Prudhoe Residual'",
        "strokeColor": "#000000", "fillColor": "#ffffff", "padding": 6,
        "symbolType": "stroke", "symbolSize": 1764, "symbolStrokeWidth": 4, "symbolOffset": 5,
        "labelFontSize": 19, "labelFontWeight": "bold", "labelColor": "#000000", "labelOffset": 6, "labelLimit": 400, "rowPadding": 8
      }
    }
  }
}
